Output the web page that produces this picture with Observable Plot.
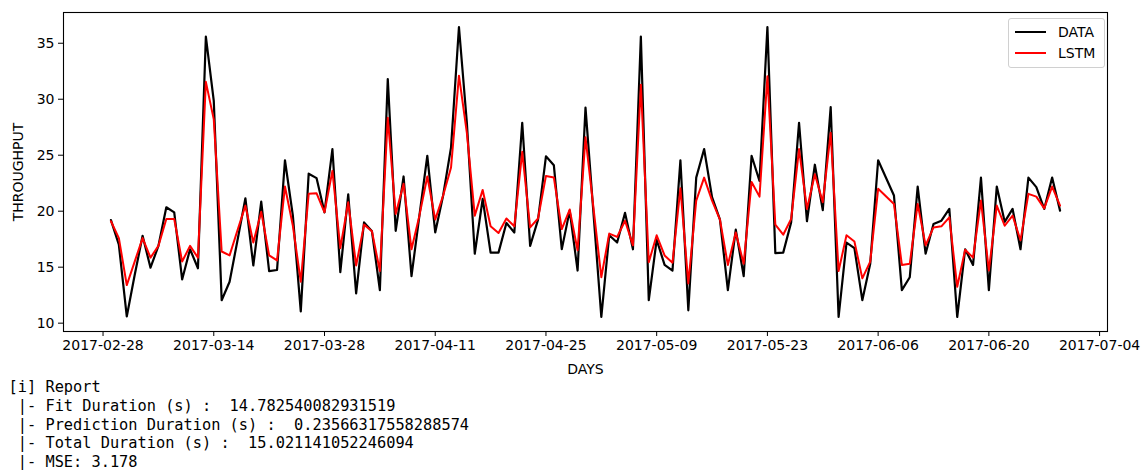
<!DOCTYPE html>
<html>
<head>
<meta charset="utf-8">
<script src="https://cdn.jsdelivr.net/npm/d3@7"></script>
<script src="https://cdn.jsdelivr.net/npm/@observablehq/plot@0.6"></script>
<style>
  html, body { margin: 0; padding: 0; background: #fff; }
  #wrap { position: relative; width: 1146px; height: 470px; overflow: hidden; }
  #legend {
    position: absolute; left: 1008px; top: 18px; width: 95px; height: 48px;
    border: 1px solid #d0d0d0; border-radius: 3px; background: rgba(255,255,255,0.8);
    font-family: "DejaVu Sans", sans-serif; font-size: 14px; color: #000;
  }
  #legend .row { position: absolute; left: 6px; height: 20px; display: flex; align-items: center; }
  #legend svg { display: block; margin-right: 12px; }
  #report {
    margin: 0; padding-left: 8.6px; font-family: "DejaVu Sans Mono", monospace;
    font-size: 15.3px; line-height: 18.8px; color: #000;
  }
</style>
</head>
<body>
<div id="wrap">
  <div id="chart"></div>
  <div id="legend"></div>
  <pre id="report"></pre>
</div>
<script>
// ---- data ----
const dates = [
  "2017-03-01","2017-03-02","2017-03-03","2017-03-04","2017-03-05","2017-03-06","2017-03-07","2017-03-08","2017-03-09","2017-03-10",
  "2017-03-11","2017-03-12","2017-03-13","2017-03-14","2017-03-15","2017-03-16","2017-03-17","2017-03-18","2017-03-19","2017-03-20",
  "2017-03-21","2017-03-22","2017-03-23","2017-03-24","2017-03-25","2017-03-26","2017-03-27","2017-03-28","2017-03-29","2017-03-30",
  "2017-03-31","2017-04-01","2017-04-02","2017-04-03","2017-04-04","2017-04-05","2017-04-06","2017-04-07","2017-04-08","2017-04-09",
  "2017-04-10","2017-04-11","2017-04-12","2017-04-13","2017-04-14","2017-04-15","2017-04-16","2017-04-17","2017-04-18","2017-04-19",
  "2017-04-20","2017-04-21","2017-04-22","2017-04-23","2017-04-24","2017-04-25","2017-04-26","2017-04-27","2017-04-28","2017-04-29",
  "2017-04-30","2017-05-02","2017-05-03","2017-05-04","2017-05-05","2017-05-06","2017-05-07","2017-05-08","2017-05-09","2017-05-10",
  "2017-05-11","2017-05-12","2017-05-13","2017-05-14","2017-05-15","2017-05-16","2017-05-17","2017-05-18","2017-05-19","2017-05-20",
  "2017-05-21","2017-05-22","2017-05-23","2017-05-24","2017-05-25","2017-05-26","2017-05-27","2017-05-28","2017-05-29","2017-05-30",
  "2017-05-31","2017-06-01","2017-06-02","2017-06-03","2017-06-04","2017-06-05","2017-06-06","2017-06-08","2017-06-09","2017-06-10",
  "2017-06-11","2017-06-12","2017-06-13","2017-06-14","2017-06-15","2017-06-16","2017-06-17","2017-06-18","2017-06-19","2017-06-20",
  "2017-06-21","2017-06-22","2017-06-23","2017-06-24","2017-06-25","2017-06-26","2017-06-27","2017-06-28","2017-06-29"
];
const dataValues = [
  19.2, 17.0, 10.6, 14.3, 17.8, 14.95, 16.9, 20.35, 19.9, 13.9,
  16.6, 14.9, 35.6, 29.85, 12.05, 13.7, 17.4, 21.15, 15.15, 20.85,
  14.65, 14.75, 24.55, 19.6, 11.05, 23.35, 22.95, 19.9, 25.55, 14.55,
  21.5, 12.65, 19.0, 18.2, 12.95, 31.8, 18.25, 23.1, 14.2, 19.6,
  24.95, 18.1, 21.4, 25.7, 36.45, 27.9, 16.2, 21.1, 16.3, 16.3,
  18.95, 18.1, 27.9, 16.9, 19.25, 24.9, 24.1, 16.6, 20.05, 14.7,
  29.25, 10.55, 17.85, 17.2, 19.85, 16.6, 35.6, 12.05, 17.45, 15.2,
  14.7, 24.55, 11.15, 23.0, 25.55, 21.25, 19.25, 12.95, 18.35, 14.2,
  24.95, 22.7, 36.45, 16.25, 16.3, 19.0, 27.9, 19.1, 24.15, 20.1,
  29.3, 10.55, 17.2, 16.7, 12.05, 15.3, 24.55, 21.4, 12.95, 14.1,
  22.2, 16.2, 18.85, 19.15, 20.2, 10.55, 16.6, 15.2, 23.0, 12.95,
  22.2, 19.05, 20.2, 16.6, 23.0, 22.15, 20.2, 23.0, 20.05
];
const lstmValues = [
  19.1, 17.6, 13.4, 15.5, 17.6, 15.85, 16.9, 19.3, 19.3, 15.5,
  16.9, 15.85, 31.55, 28.2, 16.4, 16.05, 18.3, 20.5, 17.2, 19.95,
  16.05, 15.6, 22.2, 18.7, 13.7, 21.55, 21.6, 19.9, 23.6, 16.7,
  20.8, 15.15, 18.8, 18.2, 14.65, 28.35, 19.75, 22.45, 16.6, 19.6,
  23.1, 19.25, 21.4, 23.9, 32.1, 27.0, 19.6, 21.9, 18.65, 18.05,
  19.35, 18.65, 25.3, 18.55, 19.35, 23.15, 23.0, 18.4, 20.15, 16.5,
  26.6, 14.1, 18.0, 17.7, 19.15, 16.95, 31.3, 15.45, 17.85, 16.05,
  15.4, 22.05, 13.55, 20.95, 23.0, 20.95, 19.25, 15.2, 18.1, 15.3,
  22.6, 21.3, 32.05, 18.8, 17.9, 19.3, 25.55, 20.2, 23.3, 20.8,
  27.0, 14.65, 17.85, 17.3, 14.0, 15.5, 22.0, 20.65, 15.2, 15.3,
  20.65, 16.95, 18.55, 18.65, 19.45, 13.25, 16.55, 15.85, 20.95, 14.7,
  20.5, 18.7, 19.6, 17.4, 21.55, 21.3, 20.25, 22.2, 20.5
];
const seriesNames = ["DATA", "LSTM"];
const seriesColors = ["black", "red"];
const xTickLabels = ["2017-02-28","2017-03-14","2017-03-28","2017-04-11","2017-04-25","2017-05-09","2017-05-23","2017-06-06","2017-06-20","2017-07-04"];
const yTicks = [10, 15, 20, 25, 30, 35];
const xLabel = "DAYS";
const yLabel = "THROUGHPUT";
const reportLines = [
  "[i] Report",
  " |- Fit Duration (s) :  14.782540082931519",
  " |- Prediction Duration (s) :  0.23566317558288574",
  " |- Total Duration (s) :  15.021141052246094",
  " |- MSE: 3.178"
];

// ---- build ----
const parse = d3.utcParse("%Y-%m-%d");
const rows = dates.map((d, i) => ({date: parse(d), data: dataValues[i], lstm: lstmValues[i]}));

// matplotlib-like 5% margins
const xExt = d3.extent(rows, r => r.date);
const xPad = (xExt[1] - xExt[0]) * 0.05;
const allY = dataValues.concat(lstmValues);
const yExt = d3.extent(allY);
const yPad = (yExt[1] - yExt[0]) * 0.05;

const chart = Plot.plot({
  width: 1146,
  height: 378,
  marginLeft: 63,
  marginRight: 39,
  marginTop: 12,
  marginBottom: 47,
  style: {fontFamily: "DejaVu Sans, sans-serif", fontSize: "14px", color: "#000", background: "transparent"},
  x: {type: "utc", domain: [new Date(+xExt[0] - xPad), new Date(+xExt[1] + xPad)]},
  y: {domain: [yExt[0] - yPad, yExt[1] + yPad]},
  marks: [
    Plot.axisX({ticks: xTickLabels.map(parse), tickFormat: d3.utcFormat("%Y-%m-%d"), tickSize: 5, tickPadding: 4,
      label: xLabel, labelAnchor: "center", labelOffset: 42, labelArrow: "none"}),
    Plot.axisY({ticks: yTicks, tickSize: 5, tickPadding: 4,
      label: yLabel, labelAnchor: "center", labelOffset: 50, labelArrow: "none"}),
    Plot.lineY(rows, {x: "date", y: "data", stroke: seriesColors[0], strokeWidth: 2.2}),
    Plot.lineY(rows, {x: "date", y: "lstm", stroke: seriesColors[1], strokeWidth: 2}),
    Plot.frame({stroke: "black", strokeWidth: 1.1})
  ]
});
document.getElementById("chart").appendChild(chart);

// legend
const legend = document.getElementById("legend");
seriesNames.forEach((name, i) => {
  const row = document.createElement("div");
  row.className = "row";
  row.style.top = (3 + i * 21) + "px";
  row.innerHTML = `<svg width="31" height="4"><line x1="0" x2="31" y1="2" y2="2" stroke="${seriesColors[i]}" stroke-width="2"/></svg><span>${name}</span>`;
  legend.appendChild(row);
});

document.getElementById("report").textContent = reportLines.join("\n");
</script>
</body>
</html>
